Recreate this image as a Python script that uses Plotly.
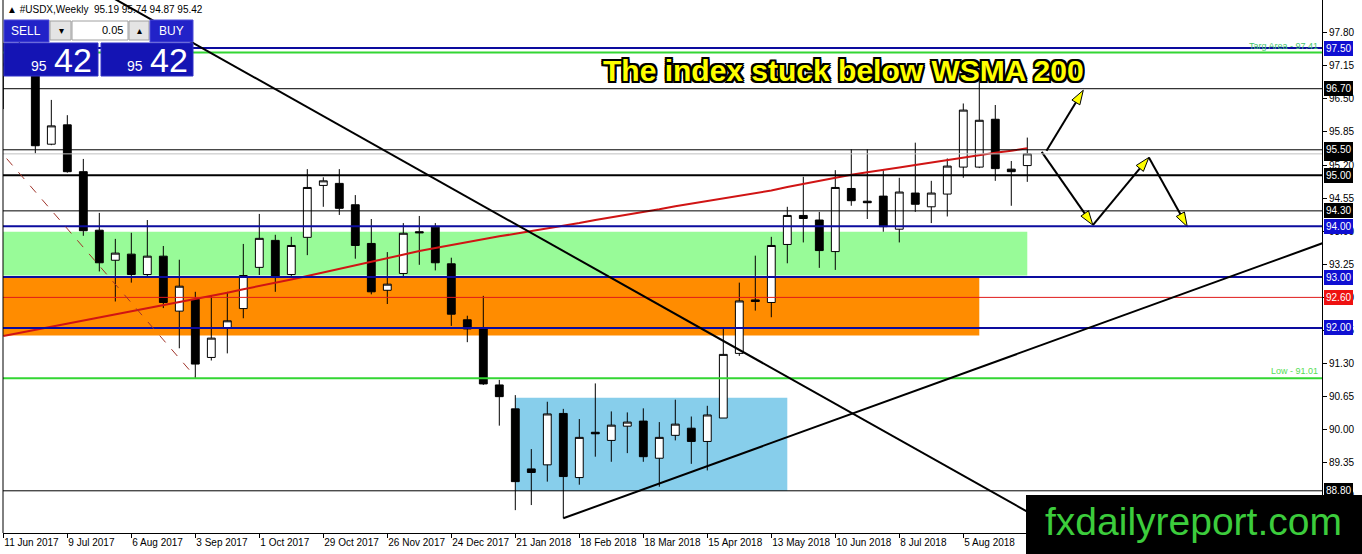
import pandas as pd
import plotly.graph_objects as go

# ---------------- data ----------------
weeks = pd.date_range("2017-06-11", periods=65, freq="7D")
week_labels = [f"{d.day} {d.strftime('%b %Y')}" for d in weeks]
bars = list(range(len(weeks)))

opens = [97.20, 97.15, 97.25, 95.61, 95.99, 95.07, 93.92, 93.33, 93.45, 93.05,
         93.41, 92.33, 92.56, 91.42, 91.99, 92.38, 93.19, 93.72, 93.05, 93.78,
         94.80, 94.84, 94.42, 93.66, 92.74, 93.07, 93.89, 93.98, 93.26, 92.16,
         91.98, 90.88, 90.41, 89.23, 89.31, 90.32, 89.06, 89.95, 89.79, 90.07,
         90.17, 89.44, 89.89, 90.03, 89.77, 90.23, 91.50, 92.55, 92.50, 93.64,
         94.21, 94.12, 93.50, 94.74, 94.49, 94.59, 93.94, 94.65, 94.38, 94.63,
         95.16, 95.16, 96.10, 95.12, 95.19]
highs = [97.60, 97.85, 97.30, 96.48, 96.18, 95.32, 94.26, 93.75, 93.87, 94.12,
         93.61, 93.34, 92.71, 92.63, 92.71, 93.65, 94.24, 93.83, 93.79, 95.12,
         94.96, 95.12, 94.61, 94.14, 93.49, 94.06, 94.20, 94.06, 93.38, 92.24,
         92.63, 90.98, 90.68, 89.62, 90.55, 90.41, 90.21, 90.91, 90.36, 90.34,
         90.42, 90.15, 90.59, 90.26, 90.47, 91.99, 92.89, 93.42, 93.79, 94.38,
         94.97, 94.28, 95.10, 95.51, 95.51, 95.10, 94.95, 95.64, 94.89, 95.33,
         96.41, 96.86, 96.38, 95.28, 95.74]
lows = [96.30, 97.00, 95.43, 95.59, 95.05, 93.81, 93.11, 92.52, 92.89, 93.01,
        92.39, 91.60, 91.01, 91.36, 91.50, 92.19, 93.04, 92.71, 93.02, 93.43,
        94.38, 94.22, 93.36, 92.66, 92.47, 92.99, 93.24, 93.13, 92.04, 91.72,
        90.88, 90.08, 88.42, 88.52, 88.98, 88.26, 88.92, 89.47, 89.37, 89.54,
        89.37, 88.88, 89.79, 89.33, 89.20, 90.23, 91.45, 92.34, 92.21, 93.27,
        93.68, 93.18, 93.14, 94.40, 94.14, 93.89, 93.68, 94.28, 94.06, 94.19,
        94.95, 95.14, 94.89, 94.40, 94.87]
closes = [97.15, 97.25, 95.58, 95.97, 95.07, 93.91, 93.28, 93.47, 93.05, 93.41,
          92.50, 92.82, 91.29, 91.80, 92.14, 93.03, 93.76, 92.99, 93.62, 94.76,
          94.89, 94.35, 93.62, 92.71, 92.86, 93.86, 93.87, 93.28, 92.27, 91.98,
          90.90, 90.65, 88.98, 89.16, 90.31, 89.08, 89.85, 89.92, 90.09, 90.15,
          89.47, 89.85, 90.11, 89.77, 90.29, 91.48, 92.53, 92.52, 93.62, 94.21,
          94.15, 93.52, 94.76, 94.50, 94.46, 93.99, 94.67, 94.43, 94.65, 95.18,
          96.28, 96.08, 95.13, 95.07, 95.42]
wsma200 = [91.84, 91.90, 91.96, 92.02, 92.09, 92.15, 92.21, 92.27, 92.33, 92.39,
           92.45, 92.51, 92.57, 92.63, 92.69, 92.76, 92.82, 92.88, 92.95, 93.02,
           93.09, 93.16, 93.24, 93.31, 93.38, 93.44, 93.51, 93.57, 93.63, 93.69,
           93.74, 93.80, 93.85, 93.90, 93.96, 94.01, 94.06, 94.12, 94.17, 94.23,
           94.28, 94.33, 94.39, 94.44, 94.49, 94.54, 94.60, 94.65, 94.70, 94.77,
           94.83, 94.90, 94.96, 95.01, 95.06, 95.10, 95.15, 95.20, 95.25, 95.29,
           95.34, 95.39, 95.44, 95.48, 95.53]

price_ticks = [88.70, 89.35, 90.00, 90.65, 91.30, 91.95, 92.60, 93.25, 93.90,
               94.55, 95.20, 95.85, 96.50, 97.15, 97.80]

levels = [97.50, 97.41, 96.70, 95.50, 95.42, 95.00, 94.30, 94.00, 93.00, 92.60,
          92.00, 91.01, 88.80]
level_kind = ["blue", "green", "black", "black", "grey", "black2", "black",
              "blue", "blue", "red", "blue", "green", "black"]

tag_prices = [97.50, 96.70, 95.42, 95.50, 95.00, 94.30, 94.00, 93.00, 92.60,
              92.00, 88.80]
tag_kind = ["blue", "black", "black", "black", "black", "black", "blue", "blue",
            "red", "blue", "black"]

zone_low = [93.03, 91.85, 88.80]
zone_high = [93.89, 93.00, 90.63]
zone_start = [-5, -5, 32]
zone_end = [64, 61, 49]
zone_kind = ["green", "orange", "sky"]

trend_x0 = [5, 35, -2]
trend_y0 = [98.81, 88.26, 96.13]
trend_x1 = [70, 84, 12]
trend_y1 = [87.33, 93.84, 91.04]
trend_kind = ["solid", "solid", "dash"]

arrow_up_x = [65.2, 67.5]
arrow_up_y = [95.48, 96.67]
zigzag_x = [64.9, 68.1, 71.6, 74.0]
zigzag_y = [95.46, 94.02, 95.35, 93.99]

title_text = "The index stuck below WSMA 200"
target_label = "Targ Area - 97.41"
low_label = "Low - 91.01"

# ---------------- styles ----------------
W, H = 1362, 554
ML, MR, MT, MB = 3, 40, 0, 21
PW, PH = W - ML - MR, H - MT - MB
FONT = "Liberation Sans"


def px(x):
    return (x - ML) / PW


def py(y):
    return 1 - (y - MT) / PH


line_styles = {
    "blue": dict(color="#0c0c9e", width=2),
    "green": dict(color="#33d633", width=2),
    "black": dict(color="black", width=1),
    "black2": dict(color="black", width=2),
    "grey": dict(color="#c0c0c0", width=1),
    "red": dict(color="#e01818", width=1),
}
tag_bg = {"blue": "#0f0fd2", "black": "#000000", "red": "#ee1111"}
zone_fill = {"green": "#98fb98", "orange": "#ff8c00", "sky": "#87ceeb"}

fig = go.Figure()

fig.add_trace(go.Candlestick(
    x=bars, open=opens, high=highs, low=lows, close=closes,
    increasing=dict(fillcolor="white", line=dict(color="black", width=1)),
    decreasing=dict(fillcolor="black", line=dict(color="black", width=1)),
    hoverinfo="skip", showlegend=False,
))

fig.add_trace(go.Scatter(
    x=bars, y=wsma200, mode="lines",
    line=dict(color="#d01414", width=2), hoverinfo="skip", showlegend=False,
))

shapes = []
for lo, hi, s, e, k in zip(zone_low, zone_high, zone_start, zone_end, zone_kind):
    shapes.append(dict(type="rect", xref="x", yref="y", x0=s, x1=e, y0=lo, y1=hi,
                       fillcolor=zone_fill[k], line=dict(width=0), layer="below"))

for lv, k in zip(levels, level_kind):
    shapes.append(dict(type="line", xref="paper", yref="y", x0=0, x1=1, y0=lv, y1=lv,
                       line=line_styles[k], layer="above"))

for x0, y0, x1, y1, k in zip(trend_x0, trend_y0, trend_x1, trend_y1, trend_kind):
    if k == "dash":
        ln = dict(color="#a0342a", width=1, dash="dash")
    else:
        ln = dict(color="black", width=2)
    shapes.append(dict(type="line", xref="x", yref="y", x0=x0, y0=y0, x1=x1, y1=y1,
                       line=ln, layer="above"))

# left border
shapes.append(dict(type="line", xref="paper", yref="paper", x0=0, x1=0, y0=0, y1=1,
                   line=dict(color="black", width=1)))


# trade panel (decoration)
def prect(x0, y0, x1, y1, fill, border=None):
    shapes.append(dict(type="rect", xref="paper", yref="paper",
                       x0=px(x0), x1=px(x1), y0=py(y1), y1=py(y0),
                       fillcolor=fill, line=dict(color=border or fill, width=1),
                       layer="above"))


prect(4, 20, 49, 42, "#2222c8", "#4a4ad8")
prect(50, 21, 71, 40, "#e4e4e4", "#a0a0a0")
prect(72, 21, 128, 40, "#ffffff", "#a0a0a0")
prect(129, 21, 149, 40, "#e4e4e4", "#a0a0a0")
prect(150, 20, 193, 42, "#2222c8", "#4a4ad8")
prect(4, 43, 98, 76, "#1414b4", "#3030c8")
prect(101, 43, 193, 76, "#1414b4", "#3030c8")

# watermark box
shapes.append(dict(type="rect", xref="paper", yref="paper",
                   x0=px(1026), x1=px(1362), y0=py(554), y1=py(495),
                   fillcolor="black", line=dict(width=0), layer="above"))

annotations = []


def ptext(x, y, text, size, color, xanchor="left", yanchor="middle", family=FONT, weight=None):
    f = dict(family=family, size=size, color=color)
    if weight:
        f["weight"] = weight
    annotations.append(dict(xref="paper", yref="paper", x=px(x), y=py(y), text=text,
                            showarrow=False, xanchor=xanchor, yanchor=yanchor, font=f))


ptext(5, 10, "▲ #USDX,Weekly  %.2f %.2f %.2f %.2f" % (opens[-1], highs[-1], lows[-1], closes[-1]),
      10, "black")
ptext(26, 31, "SELL", 12, "white", xanchor="center")
ptext(61, 30, "▾", 10, "black", xanchor="center")
ptext(125, 30, "0.05", 11, "black", xanchor="right")
ptext(139, 30, "▴", 10, "black", xanchor="center")
ptext(171, 31, "BUY", 12, "white", xanchor="center")
bid = "%.2f" % closes[-1]
ptext(49, 66, bid[:2], 14, "white", xanchor="right")
ptext(52, 60, bid[3:], 34, "white", xanchor="left")
ptext(145, 66, bid[:2], 14, "white", xanchor="right")
ptext(148, 60, bid[3:], 34, "white", xanchor="left")

# title
annotations.append(dict(
    xref="paper", yref="paper", x=px(843), y=py(70), text=title_text, showarrow=False,
    xanchor="center", yanchor="middle",
    font=dict(family=FONT, size=30, color="#ffff00", weight="bold",
              shadow="-2px -2px 0 #000, 2px -2px 0 #000, -2px 2px 0 #000, 2px 2px 0 #000, "
                     "0 2px 0 #000, 0 -2px 0 #000, 2px 0 0 #000, -2px 0 0 #000"),
))

# level labels
annotations.append(dict(xref="paper", yref="y", x=1, y=97.41, text=target_label,
                        showarrow=False, xanchor="right", yanchor="bottom", xshift=-2,
                        font=dict(family=FONT, size=9, color="#44c46c")))
annotations.append(dict(xref="paper", yref="y", x=1, y=91.01, text=low_label,
                        showarrow=False, xanchor="right", yanchor="bottom", xshift=-2,
                        font=dict(family=FONT, size=9, color="#55dd55")))

# price tags
for p, k in zip(tag_prices, tag_kind):
    annotations.append(dict(xref="paper", yref="y", x=1, y=p, text="%.2f" % p,
                            showarrow=False, xanchor="left", yanchor="middle", xshift=2,
                            bgcolor=tag_bg[k], bordercolor=tag_bg[k], borderwidth=1,
                            borderpad=1,
                            font=dict(family=FONT, size=10, color="white")))

# watermark text
ptext(1193, 521, "fxdailyreport.com", 39, "#3ccc3c", xanchor="center")

# arrows
for xs, ys in ((arrow_up_x, arrow_up_y), (zigzag_x, zigzag_y)):
    n = len(xs)
    fig.add_trace(go.Scatter(
        x=xs, y=ys, mode="lines+markers",
        line=dict(color="black", width=2),
        marker=dict(symbol="arrow", angleref="previous", size=[0] + [15] * (n - 1),
                    opacity=[0] + [1] * (n - 1), color="#ffff00",
                    line=dict(color="black", width=1)),
        hoverinfo="skip", showlegend=False,
    ))

fig.update_layout(
    width=W, height=H, margin=dict(l=ML, r=MR, t=MT, b=MB, autoexpand=False),
    paper_bgcolor="white", plot_bgcolor="white", showlegend=False,
    shapes=shapes, annotations=annotations,
    xaxis=dict(range=[-0.02, 82.42], tickvals=bars[::4], ticktext=week_labels[::4],
               ticks="outside", ticklen=4, tickcolor="black", showline=True,
               linecolor="black", linewidth=1, showgrid=False, zeroline=False,
               rangeslider=dict(visible=False), ticklabelposition="outside right",
               tickangle=0, automargin=False,
               tickfont=dict(family=FONT, size=10, color="black")),
    yaxis=dict(side="right", range=[87.971, 98.443], tickvals=price_ticks,
               ticktext=["%.2f" % t for t in price_ticks], automargin=False,
               ticks="outside", ticklen=4, tickcolor="black", showline=True,
               linecolor="black", linewidth=1, showgrid=False, zeroline=False,
               tickfont=dict(family=FONT, size=10, color="black")),
)

fig.write_html("out.html", config={"displayModeBar": False},
               post_script="document.body.style.margin='0';document.body.style.overflow='hidden';")
